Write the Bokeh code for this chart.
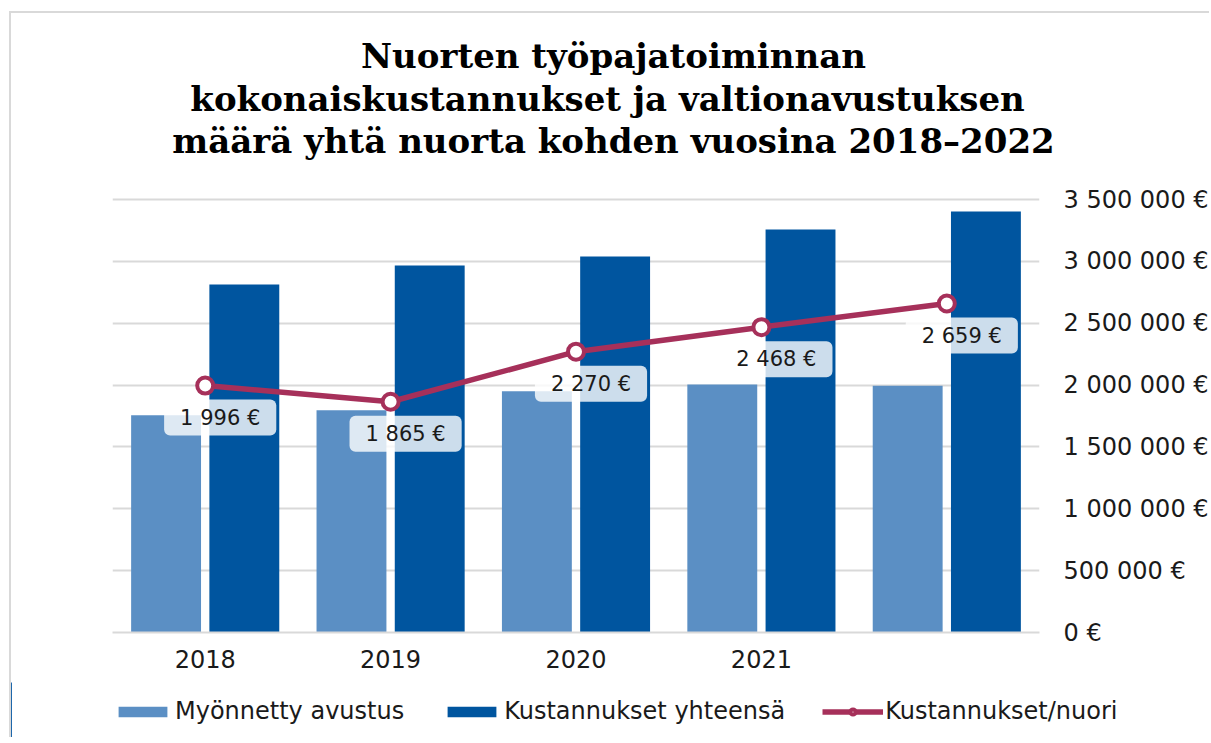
import numpy as np
from bokeh.plotting import figure
from bokeh.models import (Range1d, FixedTicker, Legend, LegendItem,
                          ColumnDataSource, Label)
from bokeh.embed import file_html
from bokeh.resources import INLINE
from bokeh.core.properties import value

# ---------------- data ----------------
title_lines = ["Nuorten työpajatoiminnan",
               "kokonaiskustannukset ja  valtionavustuksen",
               "määrä yhtä nuorta kohden vuosina 2018–2022"]
years = ["2018", "2019", "2020", "2021", "2022"]
year_tick_labels = ["2018", "2019", "2020", "2021", ""]
series_names = ["Myönnetty avustus", "Kustannukset yhteensä", "Kustannukset/nuori"]
avustus = [1756000, 1797000, 1950000, 2005000, 1994000]
kustannukset = [2813000, 2967000, 3040000, 3258000, 3403000]
per_nuori = [1996, 1865, 2270, 2468, 2659]
per_nuori_labels = ["1 996 €", "1 865 €", "2 270 €", "2 468 €", "2 659 €"]
y_ticks = [0, 500000, 1000000, 1500000, 2000000, 2500000, 3000000, 3500000]
y_tick_labels = ["0 €", "500 000 €", "1 000 000 €", "1 500 000 €",
                 "2 000 000 €", "2 500 000 €", "3 000 000 €", "3 500 000 €"]
y_max = 3500000
y2_max = 3500

# ---------------- styles / layout ----------------
C_AV = "#5B8FC4"
C_KU = "#00559F"
C_LINE = "#A6305A"
GRID = "#D9D9D9"
TXT = "#1A1A1A"
SANS = "DejaVu Sans"
SERIF = "DejaVu Serif"
BORDER = "2px solid #D9D9D9"

W = 1200
TITLE_FIG_H = 150
TOP = 38          # px between title strip and top gridline
PLOT_H = 433      # px of the plotting area (0 .. y_max)
PAD = 3           # px of head room above the top gridline
BOT = 50          # px for category labels
LEG_H = 55
k = (PLOT_H + PAD) / PLOT_H
n = len(years)
xc = np.arange(n) + 0.5

# ---------------- title strip ----------------
tf = figure(width=W, height=TITLE_FIG_H, output_backend="svg", toolbar_location=None,
            x_range=Range1d(0, W), y_range=Range1d(TITLE_FIG_H, 0),
            x_axis_type=None, y_axis_type=None, min_border=0)
tf.outline_line_color = None
tf.border_fill_color = "white"
tf.styles = {"border-left": BORDER, "border-top": BORDER,
             "margin-top": "11px", "margin-left": "9px"}
title_y = [42, 85, 127]
for line, yy in zip(title_lines, title_y):
    tf.add_layout(Label(x=602, y=yy, text=line,
                        text_align="center", text_baseline="middle",
                        text_font=SERIF, text_font_style="bold",
                        text_font_size="34px", text_color="#000000"))

# ---------------- main chart ----------------
p = figure(width=W, height=TOP - PAD + PLOT_H + PAD + BOT, output_backend="svg",
           toolbar_location=None,
           x_range=Range1d(0, n), y_range=Range1d(0, y_max * k),
           y_axis_location="right",
           min_border_left=101, min_border_right=171,
           min_border_top=TOP - PAD, min_border_bottom=BOT)
p.extra_y_ranges = {"nuori": Range1d(0, y2_max * k)}
p.outline_line_color = None
p.background_fill_color = "white"
p.border_fill_color = "white"
p.styles = {"border-left": BORDER, "margin-left": "9px"}

src = ColumnDataSource(dict(x=xc, av=avustus, ku=kustannukset, pn=per_nuori,
                            lab=per_nuori_labels))

bw = 0.377
p.vbar(x=xc - 0.211, top=avustus, width=bw, bottom=0,
       fill_color=C_AV, line_color=None)
p.vbar(x=xc + 0.211, top=kustannukset, width=bw, bottom=0,
       fill_color=C_KU, line_color=None)
p.line(x="x", y="pn", source=src, y_range_name="nuori",
       line_color=C_LINE, line_width=5.5)
p.scatter(x="x", y="pn", source=src, y_range_name="nuori",
          marker="circle", size=16, fill_color="white",
          line_color=C_LINE, line_width=4)
p.text(x="x", y="pn", text="lab", source=src, y_range_name="nuori",
       x_offset=15, y_offset=32, text_align="center", text_baseline="middle",
       text_font=value(SANS), text_font_size="21px", text_color=TXT,
       background_fill_color="white", background_fill_alpha=0.8,
       border_radius=6, padding=(16, 6))

p.xaxis.ticker = FixedTicker(ticks=list(xc))
p.xaxis.major_label_overrides = {float(t): l for t, l in zip(xc, year_tick_labels)}
p.xaxis.axis_line_color = GRID
p.xaxis.axis_line_width = 2
p.xaxis.major_tick_line_color = None
p.xaxis.minor_tick_line_color = None
p.xaxis.major_tick_out = 0
p.xaxis.major_tick_in = 0
p.xaxis.major_label_standoff = 17
p.xaxis.major_label_text_font = SANS
p.xaxis.major_label_text_font_size = "24px"
p.xaxis.major_label_text_color = TXT

p.yaxis.ticker = FixedTicker(ticks=y_ticks)
p.yaxis.major_label_overrides = {t: l for t, l in zip(y_ticks, y_tick_labels)}
p.yaxis.axis_line_color = None
p.yaxis.major_tick_line_color = None
p.yaxis.minor_tick_line_color = None
p.yaxis.major_tick_out = 0
p.yaxis.major_tick_in = 0
p.yaxis.major_label_standoff = 24
p.yaxis.major_label_text_font = SANS
p.yaxis.major_label_text_font_size = "24px"
p.yaxis.major_label_text_color = TXT

p.xgrid.visible = False
p.ygrid.ticker = FixedTicker(ticks=y_ticks)
p.ygrid.grid_line_color = GRID
p.ygrid.grid_line_width = 2

# ---------------- legend strip ----------------
lg = figure(width=W, height=LEG_H, output_backend="svg", toolbar_location=None,
            x_range=Range1d(10 * n, 10 * n + 1), y_range=Range1d(0, 1),
            x_axis_type=None, y_axis_type=None, min_border=0)
lg.outline_line_color = None
lg.border_fill_color = "white"
lg.background_fill_color = "white"
lg.styles = {"border-left": BORDER, "margin-left": "9px"}
lsrc = ColumnDataSource(dict(x=xc, av=avustus, ku=kustannukset, pn=per_nuori))
l_av = lg.vbar(x="x", top="av", source=lsrc, width=bw, fill_color=C_AV, line_color=None)
l_ku = lg.vbar(x="x", top="ku", source=lsrc, width=bw, fill_color=C_KU, line_color=None)
l_ln = lg.line(x="x", y="pn", source=lsrc, line_color=C_LINE, line_width=5.5)
l_sc = lg.scatter(x="x", y="pn", source=lsrc, marker="circle", size=14,
                  fill_color="white", line_color=C_LINE, line_width=4)

legend = Legend(items=[LegendItem(label=series_names[0], renderers=[l_av]),
                       LegendItem(label=series_names[1], renderers=[l_ku]),
                       LegendItem(label=series_names[2], renderers=[l_ln, l_sc])],
                orientation="horizontal", location=(101, 12),
                glyph_width=61, glyph_height=13, label_standoff=2, spacing=37,
                padding=0, margin=0, border_line_color=None,
                background_fill_alpha=0,
                label_text_font=SANS, label_text_font_size="24px",
                label_text_color=TXT)
lg.add_layout(legend, "center")

open("out.html", "w").write(file_html([tf, p, lg], INLINE))
